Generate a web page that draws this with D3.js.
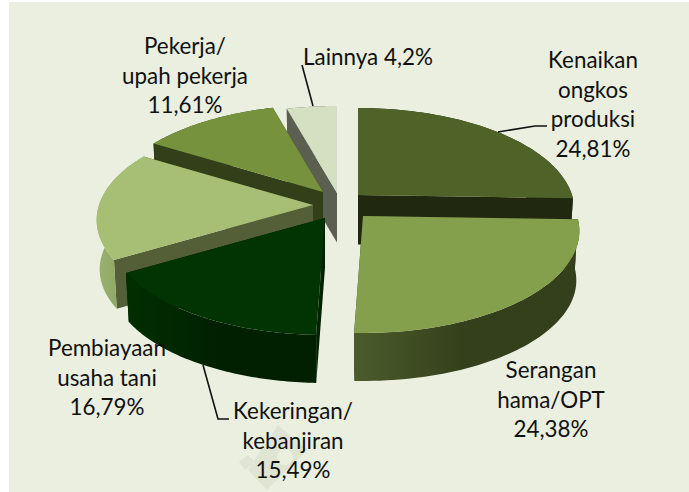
<!DOCTYPE html>
<html><head><meta charset="utf-8">
<script src="https://cdnjs.cloudflare.com/ajax/libs/d3/7.8.5/d3.min.js"></script>
<style>html,body{margin:0;padding:0;background:#fff}svg{display:block}text{font-family:Lato,"Open Sans",sans-serif;font-size:22.4px;fill:#111}</style>
</head><body><svg id="c" width="689" height="492"></svg>
<script>
const categories=["Kenaikan ongkos produksi","Serangan hama/OPT","Kekeringan/ kebanjiran","Pembiayaan usaha tani","Pekerja/ upah pekerja","Lainnya"];
const values=[24.81,24.38,15.49,16.79,11.61,4.2];
const topColors=["#4F6228","#84A04C","#023302","#A6BF75","#76923C","#D5DFC2"];
const rimColors=[["#20290F","#20290F"],["#4B5C2B","#343F1B"],["#012F01","#012001"],["#9AB26D","#8FA666"],["#333F18","#333F18"],["#5A5F50","#5A5F50"]];
const wallColors=["#20290F","#343F1B","#012101","#545F37","#333F18","#5A5F50"];
const apexes=[[358,195],[363,216],[325,218],[313,205],[323,192],[337,193]];
const drawOrder=[5,4,0,3,1,2];
const labelLines=[["Kenaikan","ongkos","produksi","24,81%"],["Serangan","hama/OPT","24,38%"],["Kekeringan/","kebanjiran","15,49%"],["Pembiayaan","usaha tani","16,79%"],["Pekerja/","upah pekerja","11,61%"],["Lainnya 4,2%"]];
const labelPos=[[593,68],[551,378],[293,419],[107,356],[185,54],[368,65]];
const leaders=[[[498,132],[535,126],[547,126]],[],[[203,365],[218,419],[229,419]],[],[],[[302,65],[313,106]]];

const R=214,K=99.8,P=0.147,DEPTH=49.6,Q=0.986;
const svg=d3.select("#c");
const defs=svg.append("defs");
svg.append("rect").attr("x",9).attr("y",2).attr("width",680).attr("height",490).attr("fill","#EAEFDF");
// faint watermark
svg.append("path").attr("fill-rule","evenodd").attr("fill","#DFE4D3")
  .attr("d","M278 425 L307 450 L267 490 L248 470 Z M293 457 A8 8 0 1 0 277 457 A8 8 0 1 0 293 457 Z M239 462 L248 455 L255 462 L245 470 Z");

const pie=d3.pie().sort(null).value(d=>d)(values);
function pt(a,t,lower){
  const Z=Math.cos(t),X=Math.sin(t),s=1/(1+P*Z),q=lower?Q:1;
  return [a[0]+R*X*s*q, a[1]+(lower?DEPTH:0)-K*Z*s*q];
}
function arc(a,t0,t1,lower){
  return d3.range(0,61).map(i=>pt(a,t0+(t1-t0)*i/60,lower));
}
const line=d3.line().curve(d3.curveLinear);
const closed=p=>line(p)+"Z";
drawOrder.forEach(i=>{
  const d=pie[i],a=apexes[i],t0=d.startAngle,t1=d.endAngle;
  const g=svg.append("g");
  const ab=[a[0],a[1]+DEPTH];
  [t0,t1].forEach(t=>{
    g.append("path").attr("d",closed([a,pt(a,t,false),pt(a,t,true),ab])).attr("fill",wallColors[i]);
  });
  const gid="rim"+i;
  const lg=defs.append("linearGradient").attr("id",gid);
  lg.append("stop").attr("offset","0%").attr("stop-color",rimColors[i][0]);
  lg.append("stop").attr("offset","50%").attr("stop-color",rimColors[i][1]);
  lg.append("stop").attr("offset","100%").attr("stop-color",rimColors[i][1]);
  g.append("path").attr("d",closed(arc(a,t0,t1,false).concat(arc(a,t0,t1,true).reverse()))).attr("fill",`url(#${gid})`);
  g.append("path").attr("d",closed([a].concat(arc(a,t0,t1,false)))).attr("fill",topColors[i]);
});
leaders.forEach(l=>{ if(l.length) svg.append("path").attr("d",line(l)).attr("fill","none").attr("stroke","#111").attr("stroke-width",1.6);});
labelLines.forEach((ls,i)=>{
  const t=svg.append("text").attr("text-anchor","middle");
  ls.forEach((s,j)=>t.append("tspan").attr("x",labelPos[i][0]).attr("y",labelPos[i][1]+j*29.7).text(s));
});
</script></body></html>
